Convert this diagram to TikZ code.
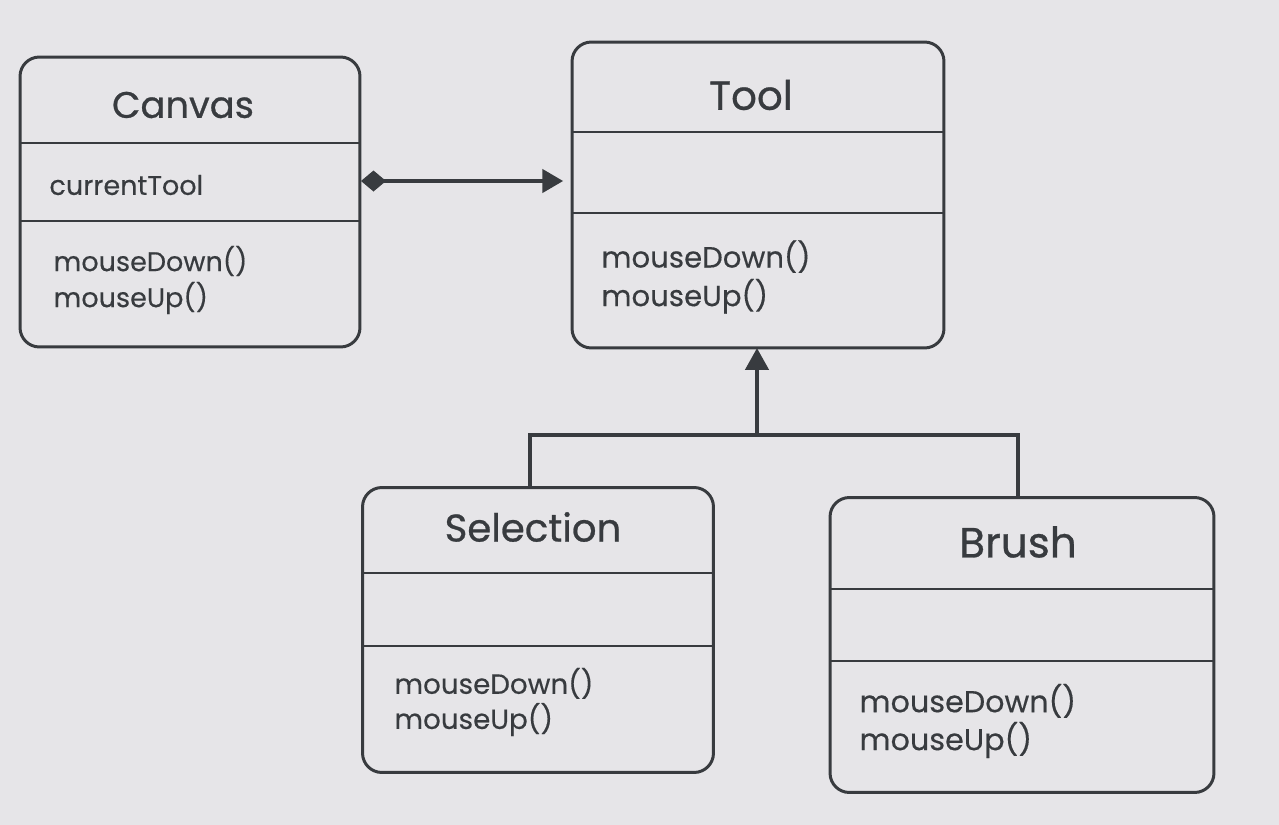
\documentclass[tikz,border=0pt]{standalone}
\usepackage{fontspec}
\setmainfont{Poppins}
\newfontfamily\headfont[FakeBold=0.7]{Poppins}
\newfontfamily\bodyfont[FakeBold=0.3]{Poppins}
\usetikzlibrary{arrows.meta, positioning}
\definecolor{cink}{HTML}{383B3F}
\definecolor{cpaper}{HTML}{E6E5E8}
\tikzset{
  every picture/.style={font=\rmfamily, line width=1.7pt},
  classbox/.style={draw=cink, rounded corners=11pt, outer sep=0pt, inner sep=0pt},
  rule/.style={draw=cink, line width=1.5pt},
  title/.style={font=\headfont\fontsize{#1}{#1}\selectfont, text=cink},
  title/.default=22,
  member/.style 2 args={font=\bodyfont\fontsize{#1}{#2}\selectfont, text=cink, align=left, anchor=west, inner sep=0pt},
  link/.style={draw=cink, line width=2.6pt},
  comp/.style={link, {Diamond[length=0.5cm, width=0.42cm]}-{Triangle[length=0.42cm, width=0.46cm]}},
  inherit/.style={link, -{Triangle[length=0.44cm, width=0.46cm]}},
}
\begin{document}
\begin{tikzpicture}[x=0.02cm, y=-0.02cm]
  \useasboundingbox[fill=cpaper] (0,0) rectangle (1279,825);
  % ---- Canvas ----
  \node[classbox, minimum width=6.8cm, minimum height=5.8cm] (canvas) at (190,202) {};
  \draw[rule] (canvas.west |- 0,143) -- (canvas.east |- 0,143);
  \draw[rule] (canvas.west |- 0,221) -- (canvas.east |- 0,221);
  \node[title=21] (canvasname) at (183,105) {Canvas};
  \node[member={15.4}{20.5}] (canvasattr) at (48,185) {currentTool};
  \node[member={15.4}{20.5}] (canvasops) at (52,280) {mouseDown()\\mouseUp()};
  % ---- Tool ----
  \node[classbox, minimum width=7.44cm, minimum height=6.12cm] (tool) at (758,195) {};
  \draw[rule] (tool.west |- 0,132) -- (tool.east |- 0,132);
  \draw[rule] (tool.west |- 0,213) -- (tool.east |- 0,213);
  \node[title=23] (toolname) at (751,95) {Tool};
  \node[member={16.6}{22}] (toolops) at (600,277) {mouseDown()\\mouseUp()};
  % ---- Selection ----
  \node[classbox, minimum width=7.02cm, minimum height=5.7cm] (selection) at (538,630) {};
  \draw[rule] (selection.west |- 0,573) -- (selection.east |- 0,573);
  \draw[rule] (selection.west |- 0,646) -- (selection.east |- 0,646);
  \node[title=22] (selectionname) at (533,527) {Selection};
  \node[member={15.8}{20}] (selectionops) at (393,702) {mouseDown()\\mouseUp()};
  % ---- Brush ----
  \node[classbox, minimum width=7.68cm, minimum height=5.9cm] (brush) at (1022,645) {};
  \draw[rule] (brush.west |- 0,589) -- (brush.east |- 0,589);
  \draw[rule] (brush.west |- 0,661) -- (brush.east |- 0,661);
  \node[title=24] (brushname) at (1018,542) {Brush};
  \node[member={17.2}{21.6}] (brushops) at (858,721) {mouseDown()\\mouseUp()};
  % ---- relations ----
  \coordinate (holder) at (361,181);
  \draw[comp, shorten >=5pt] (holder) -- (tool.west |- holder);
  \coordinate (join) at (757,435);
  \draw[inherit] (join) -- (tool.south -| join);
  \draw[link] (selection.north -| 530,0) |- (join) -| (brush.north -| 1018,0);
\end{tikzpicture}
\end{document}
